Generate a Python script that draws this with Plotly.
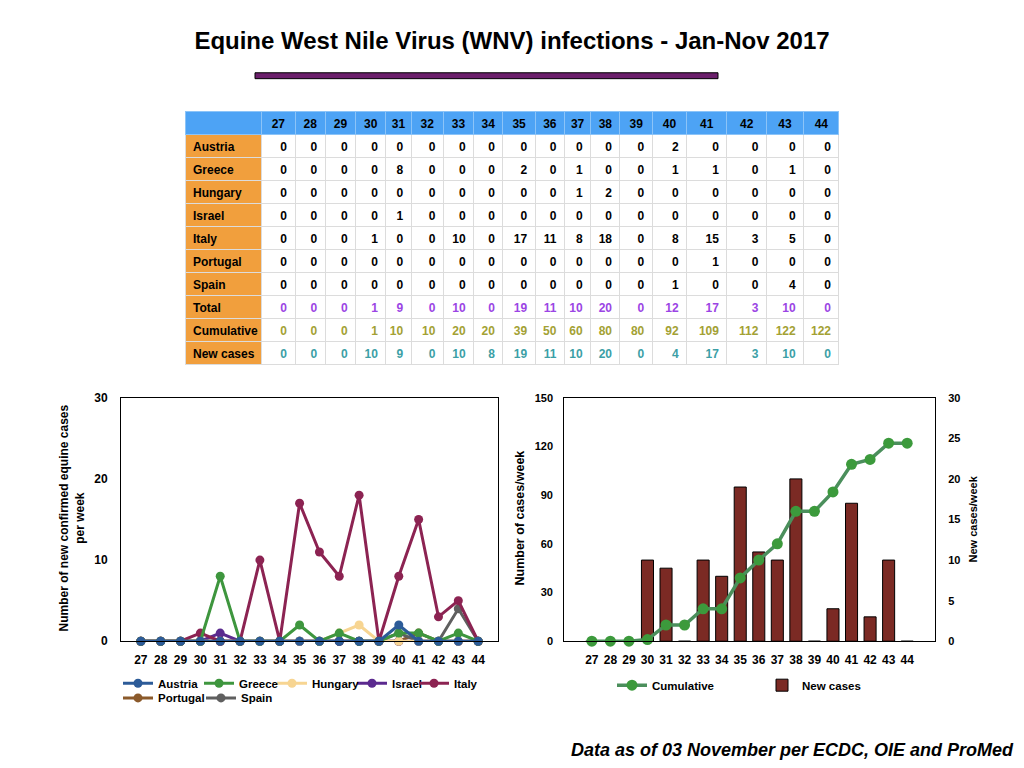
import plotly.graph_objects as go

# Weekly equine WNV cases, weeks 27-44 of 2017
weeks = ["27", "28", "29", "30", "31", "32", "33", "34", "35",
         "36", "37", "38", "39", "40", "41", "42", "43", "44"]

austria = [0, 0, 0, 0, 0, 0, 0, 0, 0, 0, 0, 0, 0, 2, 0, 0, 0, 0]
greece = [0, 0, 0, 0, 8, 0, 0, 0, 2, 0, 1, 0, 0, 1, 1, 0, 1, 0]
hungary = [0, 0, 0, 0, 0, 0, 0, 0, 0, 0, 1, 2, 0, 0, 0, 0, 0, 0]
israel = [0, 0, 0, 0, 1, 0, 0, 0, 0, 0, 0, 0, 0, 0, 0, 0, 0, 0]
italy = [0, 0, 0, 1, 0, 0, 10, 0, 17, 11, 8, 18, 0, 8, 15, 3, 5, 0]
portugal = [0, 0, 0, 0, 0, 0, 0, 0, 0, 0, 0, 0, 0, 0, 1, 0, 0, 0]
spain = [0, 0, 0, 0, 0, 0, 0, 0, 0, 0, 0, 0, 0, 1, 0, 0, 4, 0]
total = [0, 0, 0, 1, 9, 0, 10, 0, 19, 11, 10, 20, 0, 12, 17, 3, 10, 0]
cumulative = [0, 0, 0, 1, 10, 10, 20, 20, 39, 50, 60, 80, 80, 92, 109, 112, 122, 122]
new_cases = [0, 0, 0, 10, 9, 0, 10, 8, 19, 11, 10, 20, 0, 4, 17, 3, 10, 0]

row_labels = ["Austria", "Greece", "Hungary", "Israel", "Italy", "Portugal",
              "Spain", "Total", "Cumulative", "New cases"]
table_rows = [austria, greece, hungary, israel, italy, portugal, spain,
              total, cumulative, new_cases]

W, H = 1024, 768
FONT = "Liberation Sans, Arial, Helvetica, sans-serif"


def px(x):
    return x / W


def py(y):
    return 1 - y / H


# ---- table ----
row_colors = ["black"] * 7 + ["#9b45e4", "#a3a134", "#3c9fa6"]
col_widths = [76, 33, 30, 30, 30, 25, 32, 30, 29, 32, 29, 26, 29, 32, 34, 40, 39, 37, 35]

# keep the two-word label on one line inside the narrow first column
label_col = [s.replace(" ", "\u00a0") for s in row_labels]
cell_values = [label_col] + [[r[i] for r in table_rows] for i in range(len(weeks))]
fill_colors = [["#f19f3d"] * len(row_labels)] + [["white"] * len(row_labels)] * len(weeks)
font_colors = [["black"] * len(row_labels)] + [row_colors] * len(weeks)

fig = go.Figure()

fig.add_trace(go.Table(
    domain=dict(x=[px(185), px(839)], y=[py(372), py(106)]),
    columnwidth=col_widths,
    header=dict(
        values=[""] + weeks,
        fill_color="#4da3f5",
        line_color="#8cc4f8",
        align="center",
        height=23,
        font=dict(family=FONT, size=12, color="black", weight="bold"),
    ),
    cells=dict(
        values=cell_values,
        fill_color=fill_colors,
        line_color="#dcdcdc",
        align=["left"] + ["right"] * len(weeks),
        height=23,
        font=dict(family=FONT, size=12, color=font_colors, weight="bold"),
    ),
))

# ---- left chart: cases per country ----
# name, values, colour, legend id (drawn in this order so Austria sits on top)
countries = [
    ("Portugal", portugal, "#8b5a2b", "legend6"),
    ("Israel", israel, "#5b2a8f", "legend4"),
    ("Spain", spain, "#5f5f5f", "legend7"),
    ("Hungary", hungary, "#f7d592", "legend3"),
    ("Italy", italy, "#8c2352", "legend5"),
    ("Greece", greece, "#3e963e", "legend2"),
    ("Austria", austria, "#2c5b98", "legend"),
]

for name, vals, color, leg in countries:
    fig.add_trace(go.Scatter(
        x=weeks, y=vals, name=name, mode="lines+markers",
        line=dict(color=color, width=3),
        marker=dict(color=color, size=9),
        cliponaxis=False, legend=leg,
        xaxis="x", yaxis="y",
    ))

# ---- right chart: new cases bars + cumulative line ----
fig.add_trace(go.Bar(
    x=weeks, y=new_cases, name="New cases",
    marker=dict(color="#7b2a24", line=dict(color="black", width=1)),
    xaxis="x2", yaxis="y3", legend="legend8", legendrank=2,
))
fig.add_trace(go.Scatter(
    x=weeks, y=cumulative, name="Cumulative", mode="lines+markers",
    line=dict(color="#4b8f5c", width=3.5),
    marker=dict(color="#3c9a3c", size=11),
    cliponaxis=False,
    xaxis="x2", yaxis="y4", legend="legend8", legendrank=1,
))

tick_font = dict(family=FONT, size=12, color="black", weight="bold")
box = dict(showline=True, mirror=True, linecolor="black", linewidth=1,
           showgrid=False, zeroline=False, ticks="")
legend_font = dict(family=FONT, size=11.5, color="black", weight="bold")


def legend_at(x, y, **kw):
    return dict(orientation="h", x=px(x), xanchor="left", y=py(y), yanchor="top",
                font=legend_font, bgcolor="rgba(0,0,0,0)", itemwidth=30, **kw)


fig.update_layout(
    width=W, height=H,
    margin=dict(l=0, r=0, t=0, b=0),
    paper_bgcolor="white", plot_bgcolor="white",
    font=dict(family=FONT, color="black"),
    showlegend=True,
    bargap=0.35,
    title=dict(
        text="Equine West Nile Virus (WNV) infections - Jan-Nov 2017",
        x=0.5, xanchor="center", y=py(41), yanchor="middle",
        font=dict(family=FONT, size=24, color="black", weight="bold"),
    ),
    xaxis=dict(domain=[px(121), px(498)], anchor="y", type="category",
               range=[-1, 18], tickfont=tick_font, ticklabelstandoff=7, **box),
    yaxis=dict(domain=[py(646), py(398)], anchor="x", range=[0, 30], dtick=10,
               tickfont=tick_font, ticklabelstandoff=10, **box),
    xaxis2=dict(domain=[px(564), px(935)], anchor="y3", type="category",
                range=[-1.5, 18.5], tickfont=tick_font, ticklabelstandoff=7, **box),
    yaxis3=dict(domain=[py(646), py(398)], anchor="x2", side="right",
                range=[0, 30], dtick=5, tickfont=dict(tick_font, size=11),
                ticklabelstandoff=10, **box),
    yaxis4=dict(overlaying="y3", anchor="x2", side="left", range=[0, 150],
                dtick=30, tickfont=dict(tick_font, size=11), ticklabelstandoff=10,
                showgrid=False, zeroline=False, showline=False, ticks=""),
    # one small legend per country so the entries sit where they do in the original
    legend=legend_at(118, 674),
    legend2=legend_at(199, 674),
    legend3=legend_at(272, 674),
    legend4=legend_at(352, 674),
    legend5=legend_at(414, 674),
    legend6=legend_at(118, 689),
    legend7=legend_at(201, 689),
    legend8=legend_at(612, 676, entrywidth=105),
    shapes=[dict(type="rect", xref="paper", yref="paper",
                 x0=px(255), x1=px(718), y0=py(73), y1=py(67),
                 fillcolor="#6b1f6b", line=dict(color="black", width=1))],
    annotations=[
        dict(text="Number of new confirmed equine cases<br>per week",
             xref="paper", yref="paper", x=px(72), y=py(521), textangle=-90,
             xanchor="center", yanchor="middle", showarrow=False,
             font=dict(family=FONT, size=12, weight="bold")),
        dict(text="Number of cases/week", xref="paper", yref="paper",
             x=px(520), y=py(521), textangle=-90, xanchor="center",
             yanchor="middle", showarrow=False,
             font=dict(family=FONT, size=12.5, weight="bold")),
        dict(text="New cases/week", xref="paper", yref="paper",
             x=px(973), y=py(522), textangle=-90, xanchor="center",
             yanchor="middle", showarrow=False,
             font=dict(family=FONT, size=11, weight="bold")),
        dict(text="<b><i>Data as of 03 November per ECDC, OIE and ProMed</i></b>",
             xref="paper", yref="paper", x=px(1016), xanchor="right",
             y=py(757), yanchor="middle", showarrow=False,
             font=dict(family=FONT, size=18, color="black")),
    ],
)

# drop the browser's default page margin so the 1024x768 figure fills the window
fig.write_html("out.html", config={"displayModeBar": False},
               post_script="document.body.style.margin='0px';")
